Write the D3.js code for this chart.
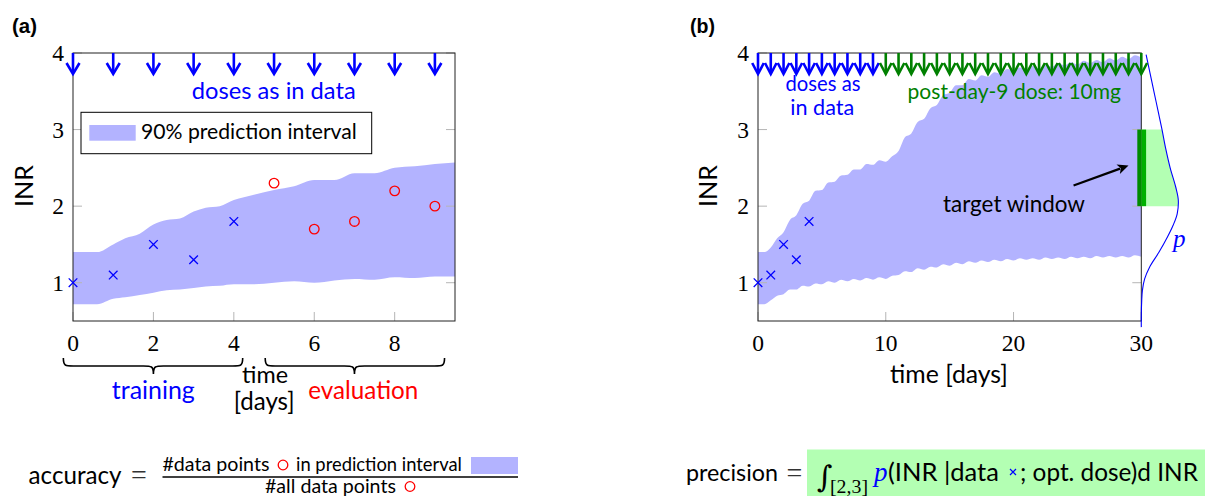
<!DOCTYPE html>
<html><head><meta charset="utf-8">
<script src="https://cdn.jsdelivr.net/npm/d3@7"></script>
<style>body{margin:0;background:#fff}svg{display:block}</style>
</head><body><svg id="c" width="1205" height="496"></svg>
<script>
// ---------------- data ----------------
const trainDays = [0, 1, 2, 3, 4];
const trainINR  = [1.0, 1.1, 1.5, 1.3, 1.8];
const evalDays  = [5, 6, 7, 8, 9];
const evalINR   = [2.3, 1.7, 1.8, 2.2, 2.0];

const dosesA      = [0, 1, 2, 3, 4, 5, 6, 7, 8, 9];
const dosesB_data = [0, 1, 2, 3, 4, 5, 6, 7, 8, 9];
const dosesB_opt  = [10, 11, 12, 13, 14, 15, 16, 17, 18, 19, 20, 21, 22, 23, 24, 25, 26, 27, 28, 29, 30];

const bandA_days  = [0, 0.6, 1, 1.3, 1.66, 2, 2.33, 2.66, 3, 3.3, 3.65, 4, 4.5, 5, 5.5, 6, 6.5, 7, 7.5, 8, 8.5, 9, 9.5];
const bandA_lower = [0.72, 0.72, 0.79, 0.81, 0.84, 0.87, 0.90, 0.91, 0.93, 0.95, 0.96, 0.98, 0.98, 1.00, 1.02, 1.00, 1.03, 1.05, 1.04, 1.07, 1.06, 1.08, 1.08];
const bandA_upper = [1.40, 1.40, 1.50, 1.58, 1.64, 1.76, 1.82, 1.84, 1.93, 1.98, 2.00, 2.08, 2.15, 2.21, 2.26, 2.34, 2.34, 2.43, 2.43, 2.50, 2.52, 2.55, 2.57];

const bandB_days  = [0, 0.5, 1, 1.5, 2, 2.5, 3, 3.5, 4, 4.5, 5, 5.5, 6, 6.5, 7, 7.5, 8, 8.5, 9, 9.5, 10, 10.5, 11, 11.5, 12, 12.5, 13, 13.5, 14, 14.5, 15, 15.5, 16, 16.5, 17, 17.5, 18, 18.5, 19, 19.5, 20, 20.5, 21, 21.5, 22, 22.5, 23, 23.5, 24, 24.5, 25, 25.5, 26, 26.5, 27, 27.5, 28, 28.5, 29, 29.5, 30];
const bandB_upper = [1.40, 1.40, 1.46, 1.58, 1.66, 1.82, 1.88, 2.03, 2.07, 2.20, 2.21, 2.31, 2.32, 2.40, 2.41, 2.48, 2.48, 2.55, 2.54, 2.60, 2.58, 2.65, 2.72, 2.90, 2.95, 3.10, 3.14, 3.28, 3.32, 3.45, 3.48, 3.58, 3.58, 3.66, 3.64, 3.71, 3.69, 3.75, 3.73, 3.79, 3.76, 3.81, 3.78, 3.83, 3.80, 3.85, 3.82, 3.87, 3.84, 3.88, 3.85, 3.90, 3.87, 3.91, 3.88, 3.93, 3.90, 3.95, 3.92, 3.97, 3.94];
const bandB_lower = [0.72, 0.72, 0.77, 0.83, 0.85, 0.91, 0.91, 0.96, 0.95, 0.99, 0.98, 1.02, 1.00, 1.04, 1.02, 1.05, 1.03, 1.06, 1.04, 1.07, 1.05, 1.09, 1.10, 1.15, 1.14, 1.19, 1.17, 1.21, 1.20, 1.24, 1.22, 1.26, 1.24, 1.28, 1.26, 1.29, 1.27, 1.30, 1.28, 1.31, 1.29, 1.32, 1.30, 1.32, 1.30, 1.33, 1.31, 1.33, 1.31, 1.34, 1.32, 1.34, 1.32, 1.35, 1.33, 1.35, 1.33, 1.35, 1.33, 1.36, 1.34];

const densINR = [3.98, 3.75, 3.5, 3.25, 3.0, 2.75, 2.5, 2.25, 2.08, 1.9, 1.75, 1.6, 1.4, 1.2, 1.05, 0.9, 0.75, 0.6, 0.42];
const densP   = [0.13, 0.23, 0.34, 0.45, 0.56, 0.66, 0.78, 0.93, 1.0, 0.97, 0.86, 0.71, 0.48, 0.22, 0.09, 0.03, 0.01, 0, 0];

const targetWindow = [2, 3];
const xTicksA = [0, 2, 4, 6, 8];
const xTicksB = [0, 10, 20, 30];
const yTicks  = [1, 2, 3, 4];

// ---------------- setup ----------------
const SANS  = 'Lato, "Open Sans", sans-serif';
const SERIF = '"Liberation Serif", "DejaVu Serif", serif';
const BLUE = '#0000ff', RED = '#ff0000', GREEN = '#008000', BAND = '#b3b3ff', LGREEN = '#b3ffb3';
const svg = d3.select('#c');

const xA = d3.scaleLinear().domain([0, 9.5]).range([73, 455]);
const yA = d3.scaleLinear().domain([0.5, 4]).range([321, 53]);
const xB = d3.scaleLinear().domain([0, 30]).range([758, 1141.3]);
const yB = d3.scaleLinear().domain([0.5, 4]).range([321, 53]);
const xD = d3.scaleLinear().domain([0, 1]).range([xB(30), xB(30) + 37]);

function txt(g, s, x, y, o = {}) {
  const size = o.size || 20;
  const t = g.append('text').attr('x', x).attr('y', y).text(s)
    .attr('font-family', o.font || SANS).attr('font-size', size)
    .attr('fill', o.fill || '#000').attr('text-anchor', o.anchor || 'start');
  if (o.weight) t.attr('font-weight', o.weight);
  if (o.style) t.attr('font-style', o.style);
  if (o.transform) t.attr('transform', o.transform);
  if (o.w) {
    const L = t.node().getComputedTextLength();
    if (L > 0) t.attr('font-size', size * o.w / L);
  }
  return t;
}

function drawBand(g, days, lo, hi, x, y) {
  const data = days.map((d, i) => ({ d, lo: lo[i], hi: hi[i] }));
  g.append('path').datum(data).attr('fill', BAND)
    .attr('d', d3.area().x(p => x(p.d)).y0(p => y(p.lo)).y1(p => y(p.hi)).curve(d3.curveMonotoneX));
}

function drawTicks(g, x, y, xt, yt) {
  const [x0, x1] = x.range(), [y0, y1] = y.range();
  xt.forEach(v => {
    g.append('line').attr('x1', x(v)).attr('x2', x(v)).attr('y1', y0).attr('y2', y0 - 9).attr('stroke', '#b5b5b5');
    g.append('line').attr('x1', x(v)).attr('x2', x(v)).attr('y1', y1).attr('y2', y1 + 9).attr('stroke', '#b5b5b5');
  });
  yt.forEach(v => {
    g.append('line').attr('x1', x0).attr('x2', x0 + 9).attr('y1', y(v)).attr('y2', y(v)).attr('stroke', '#b5b5b5');
    g.append('line').attr('x1', x1).attr('x2', x1 - 9).attr('y1', y(v)).attr('y2', y(v)).attr('stroke', '#b5b5b5');
  });
}

function drawFrame(g, x, y) {
  const [x0, x1] = x.range(), [y0, y1] = y.range();
  g.append('rect').attr('x', x0).attr('y', y1).attr('width', x1 - x0).attr('height', y0 - y1)
    .attr('fill', 'none').attr('stroke', '#222').attr('stroke-width', 1);
}

function drawTickLabels(g, x, y, xt, yt) {
  xt.forEach(v => txt(g, String(v), x(v), 350.5, { font: SERIF, size: 23.5, anchor: 'middle' }));
  yt.forEach(v => txt(g, String(v), x.range()[0] - 9, y(v) + 8, { font: SERIF, size: 23.5, anchor: 'end' }));
}

function drawArrows(g, days, x, y, color, hw) {
  days.forEach(d => {
    const cx = x(d), top = y(4);
    g.append('line').attr('x1', cx).attr('x2', cx).attr('y1', top).attr('y2', top + 20)
      .attr('stroke', color).attr('stroke-width', 2.6);
    g.append('path').attr('d', `M${cx - hw},${top + 10} L${cx},${top + 21} L${cx + hw},${top + 10}`)
      .attr('fill', 'none').attr('stroke', color).attr('stroke-width', 2.6).attr('stroke-linejoin', 'miter');
  });
}

function cross(g, cx, cy, r, color, w) {
  g.append('path').attr('d', `M${cx - r},${cy - r}L${cx + r},${cy + r}M${cx - r},${cy + r}L${cx + r},${cy - r}`)
    .attr('stroke', color).attr('stroke-width', w).attr('fill', 'none');
}

function brace(g, x1, x2, xm, y, h) {
  const r = 10, m = y + h / 2;
  const d = `M${x1},${y} C${x1},${m} ${x1 + 2},${m} ${x1 + r},${m} L${xm - r},${m} C${xm - 2},${m} ${xm},${m} ${xm},${y + h}` +
            ` C${xm},${m} ${xm + 2},${m} ${xm + r},${m} L${x2 - r},${m} C${x2 - 2},${m} ${x2},${m} ${x2},${y}`;
  g.append('path').attr('d', d).attr('fill', 'none').attr('stroke', '#000').attr('stroke-width', 1.6);
}

// ---------------- panel (a) ----------------
const gA = svg.append('g');
txt(gA, '(a)', 12, 33, { font: '"Liberation Sans", Arial, sans-serif', weight: 'bold', size: 18, w: 25 });
drawBand(gA, bandA_days, bandA_lower, bandA_upper, xA, yA);
drawTicks(gA, xA, yA, xTicksA, yTicks);
drawFrame(gA, xA, yA);
drawArrows(gA, dosesA, xA, yA, BLUE, 6.5);
txt(gA, 'doses as in data', 273.8, 99.3, { fill: BLUE, anchor: 'middle', w: 164 });
// legend
gA.append('rect').attr('x', 81).attr('y', 112.3).attr('width', 290.7).attr('height', 41.4)
  .attr('fill', '#fff').attr('stroke', '#000').attr('stroke-width', 1);
gA.append('rect').attr('x', 89.3).attr('y', 125).attr('width', 46.4).attr('height', 15.7).attr('fill', BAND);
txt(gA, '90% prediction interval', 141, 139.3, { w: 216 });
// points
trainDays.forEach((d, i) => cross(gA, xA(d), yA(trainINR[i]), 4.3, BLUE, 1.3));
evalDays.forEach((d, i) => gA.append('circle').attr('cx', xA(d)).attr('cy', yA(evalINR[i])).attr('r', 4.8)
  .attr('fill', 'none').attr('stroke', RED).attr('stroke-width', 1.3));
drawTickLabels(gA, xA, yA, xTicksA, yTicks);
txt(gA, 'INR', 0, 0, { anchor: 'middle', w: 42, size: 24, transform: 'translate(33,186) rotate(-90)' });
// braces
brace(gA, xA(-0.24), xA(4.22), xA(2), 358, 16);
brace(gA, xA(4.78), xA(9.24), xA(7), 358, 16);
txt(gA, 'training', 153.3, 399, { fill: BLUE, anchor: 'middle', w: 83 });
txt(gA, 'evaluation', 363.3, 399, { fill: RED, anchor: 'middle', w: 110 });
txt(gA, 'time', 265, 383, { anchor: 'middle', w: 46, size: 20 });
txt(gA, '[days]', 264.2, 410, { anchor: 'middle', w: 61, size: 20 });

// accuracy formula
const gF = svg.append('g');
txt(gF, 'accuracy', 28.6, 484, { w: 93, size: 26 });
txt(gF, '=', 139, 484, { font: SERIF, anchor: 'middle', size: 28, fill: '#333' });
txt(gF, '#data points', 162.5, 471, { w: 107, size: 18 });
gF.append('circle').attr('cx', 283).attr('cy', 465).attr('r', 4.8).attr('fill', 'none').attr('stroke', RED).attr('stroke-width', 1.3);
txt(gF, 'in prediction interval', 296, 471, { w: 166, size: 18 });
gF.append('rect').attr('x', 471).attr('y', 457).attr('width', 47).attr('height', 17).attr('fill', BAND);
gF.append('line').attr('x1', 162.5).attr('x2', 518).attr('y1', 477).attr('y2', 477).attr('stroke', '#000').attr('stroke-width', 1.3);
txt(gF, '#all data points', 265, 492.5, { w: 131, size: 18 });
gF.append('circle').attr('cx', 410).attr('cy', 486.5).attr('r', 4.8).attr('fill', 'none').attr('stroke', RED).attr('stroke-width', 1.3);

// ---------------- panel (b) ----------------
const gB = svg.append('g');
txt(gB, '(b)', 690, 33, { font: '"Liberation Sans", Arial, sans-serif', weight: 'bold', size: 18, w: 25 });
drawBand(gB, bandB_days, bandB_lower, bandB_upper, xB, yB);
drawTicks(gB, xB, yB, xTicksB, yTicks);
drawFrame(gB, xB, yB);

// density of INR at day 30
const dens = densINR.map((v, i) => ({ v, p: densP[i] }));
svg.append('clipPath').attr('id', 'tw').append('rect')
  .attr('x', xD(0)).attr('y', yB(targetWindow[1])).attr('width', 60).attr('height', yB(targetWindow[0]) - yB(targetWindow[1]));
gB.append('path').datum(dens).attr('clip-path', 'url(#tw)').attr('fill', LGREEN)
  .attr('d', d3.area().y(q => yB(q.v)).x0(xD(0)).x1(q => xD(q.p)).curve(d3.curveCatmullRom));
gB.append('path').datum(dens).attr('fill', 'none').attr('stroke', BLUE).attr('stroke-width', 1.1)
  .attr('d', d3.line().y(q => yB(q.v)).x(q => xD(q.p)).curve(d3.curveCatmullRom));
// target window bar
gB.append('rect').attr('x', xB(30) - 4).attr('y', yB(targetWindow[1])).attr('width', 4.4)
  .attr('height', yB(targetWindow[0]) - yB(targetWindow[1])).attr('fill', '#008a00');
gB.append('rect').attr('x', xB(30) + 0.4).attr('y', yB(targetWindow[1])).attr('width', 4.4)
  .attr('height', yB(targetWindow[0]) - yB(targetWindow[1])).attr('fill', '#00b000');

drawArrows(gB, dosesB_data, xB, yB, BLUE, 5.8);
drawArrows(gB, dosesB_opt, xB, yB, GREEN, 5.8);
trainDays.forEach((d, i) => cross(gB, xB(d), yB(trainINR[i]), 4.3, BLUE, 1.3));
drawTickLabels(gB, xB, yB, xTicksB, yTicks);
txt(gB, 'INR', 0, 0, { anchor: 'middle', w: 42, size: 24, transform: 'translate(717,186) rotate(-90)' });
txt(gB, 'time [days]', 949, 382.6, { anchor: 'middle', w: 118, size: 22 });
txt(gB, 'doses as', 823, 91, { fill: BLUE, anchor: 'middle', w: 75 });
txt(gB, 'in data', 822.3, 115, { fill: BLUE, anchor: 'middle', w: 64 });
txt(gB, 'post-day-9 dose: 10mg', 907.6, 98.8, { fill: GREEN, w: 213.6 });
txt(gB, 'target window', 1014, 211.9, { anchor: 'middle', w: 142 });
txt(gB, 'p', 1173, 246.7, { font: SERIF, style: 'italic', fill: BLUE, size: 25 });

// black annotation arrow
{
  const sx = xB(24.7), sy = yB(2.27), ex = xB(29.0), ey = yB(2.53);
  const a = Math.atan2(ey - sy, ex - sx), L = 11, W = 5;
  const bx = ex - L * Math.cos(a), by = ey - L * Math.sin(a);
  gB.append('line').attr('x1', sx).attr('y1', sy).attr('x2', bx + 2 * Math.cos(a)).attr('y2', by + 2 * Math.sin(a))
    .attr('stroke', '#000').attr('stroke-width', 2.2);
  const px = -Math.sin(a), py = Math.cos(a);
  const ix = ex - 0.75 * L * Math.cos(a), iy = ey - 0.75 * L * Math.sin(a);
  gB.append('path').attr('d', `M${ex},${ey} L${bx + W * px},${by + W * py} L${ix},${iy} L${bx - W * px},${by - W * py} Z`).attr('fill', '#000');
}

// precision formula
const gP = svg.append('g');
gP.append('rect').attr('x', 807).attr('y', 449.5).attr('width', 400).attr('height', 50).attr('fill', LGREEN);
txt(gP, 'precision', 686, 481, { w: 92, size: 26 });
txt(gP, '=', 794.5, 482, { font: SERIF, anchor: 'middle', size: 28, fill: '#333' });
txt(gP, '\u222B', 817, 487, { font: '"DejaVu Serif", serif', size: 30, style: 'italic' });
txt(gP, '[2,3]', 830, 493, { font: SERIF, size: 16, w: 38 });
txt(gP, 'p', 874, 481, { font: SERIF, style: 'italic', fill: BLUE, size: 27 });
txt(gP, '(INR |data', 888, 481, { w: 111, size: 26 });
cross(gP, 1013, 472, 3, BLUE, 1.2);
txt(gP, '; opt. dose)d INR', 1020, 481, { w: 178, size: 26 });
</script></body></html>
